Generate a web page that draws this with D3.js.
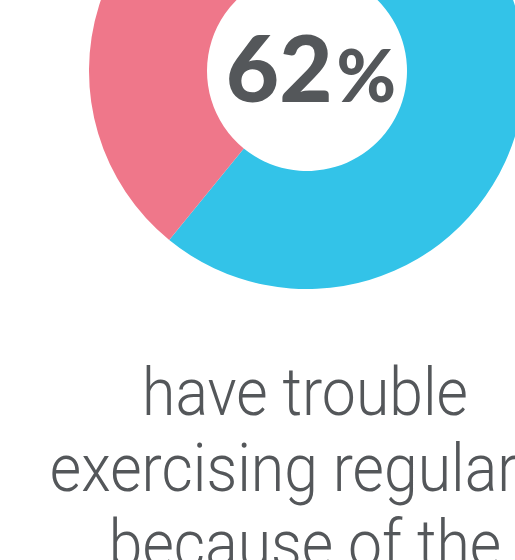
<!DOCTYPE html>
<html>
<head>
<meta charset="utf-8">
<script src="https://cdn.jsdelivr.net/npm/d3@7"></script>
<style>
  body { margin: 0; background: #fff; }
  svg { display: block; }
</style>
</head>
<body>
<div id="chart"></div>
<script>
const categories = ["have trouble", "no trouble"];
const values = [62, 38];
const colors = ["#33c3e8", "#ef778a"];
const bigNumber = "62";
const bigUnit = "%";
const captionLines = ["have trouble", "exercising regularly", "because of the"];

const w = 515;
const h = 560;
const cx = 307;
const cy = 71;
const outerR = 218;
const innerR = 100;
const rotate = -4 * Math.PI / 180; // ring is turned slightly anticlockwise

const svg = d3.select("#chart")
  .append("svg")
  .attr("width", w)
  .attr("height", h);

const pie = d3.pie().sort(null).value(d => d)
  .startAngle(rotate)
  .endAngle(rotate + 2 * Math.PI);
const arc = d3.arc().innerRadius(innerR).outerRadius(outerR);

const g = svg.append("g").attr("transform", `translate(${cx},${cy})`);

g.selectAll("path")
  .data(pie(values))
  .enter()
  .append("path")
  .attr("d", arc)
  .attr("fill", (d, i) => colors[i]);

// big percentage in the hole
const label = g.append("text")
  .attr("x", 4)
  .attr("y", 31)
  .attr("text-anchor", "middle")
  .attr("fill", "#54575a")
  .style("font-family", "Lato, 'Open Sans', sans-serif")
  .style("font-weight", 900);

label.append("tspan").style("font-size", "92px").text(bigNumber);
label.append("tspan").attr("dx", 4).style("font-size", "72px").text(bigUnit);

// caption, light face squeezed to the condensed look of the original
const lines = svg.append("g")
  .selectAll("text")
  .data(captionLines)
  .enter()
  .append("text")
  .attr("text-anchor", "middle")
  .attr("fill", "#54575a")
  .style("font-family", "Roboto, 'Open Sans', sans-serif")
  .style("font-weight", 300)
  .style("font-size", "67px")
  .text(d => d);

const firstWidth = lines.node().getComputedTextLength();
const sx = 326 / firstWidth;
lines.attr("transform", (d, i) => `translate(305,${415 + i * 76}) scale(${sx},1)`);
</script>
</body>
</html>
